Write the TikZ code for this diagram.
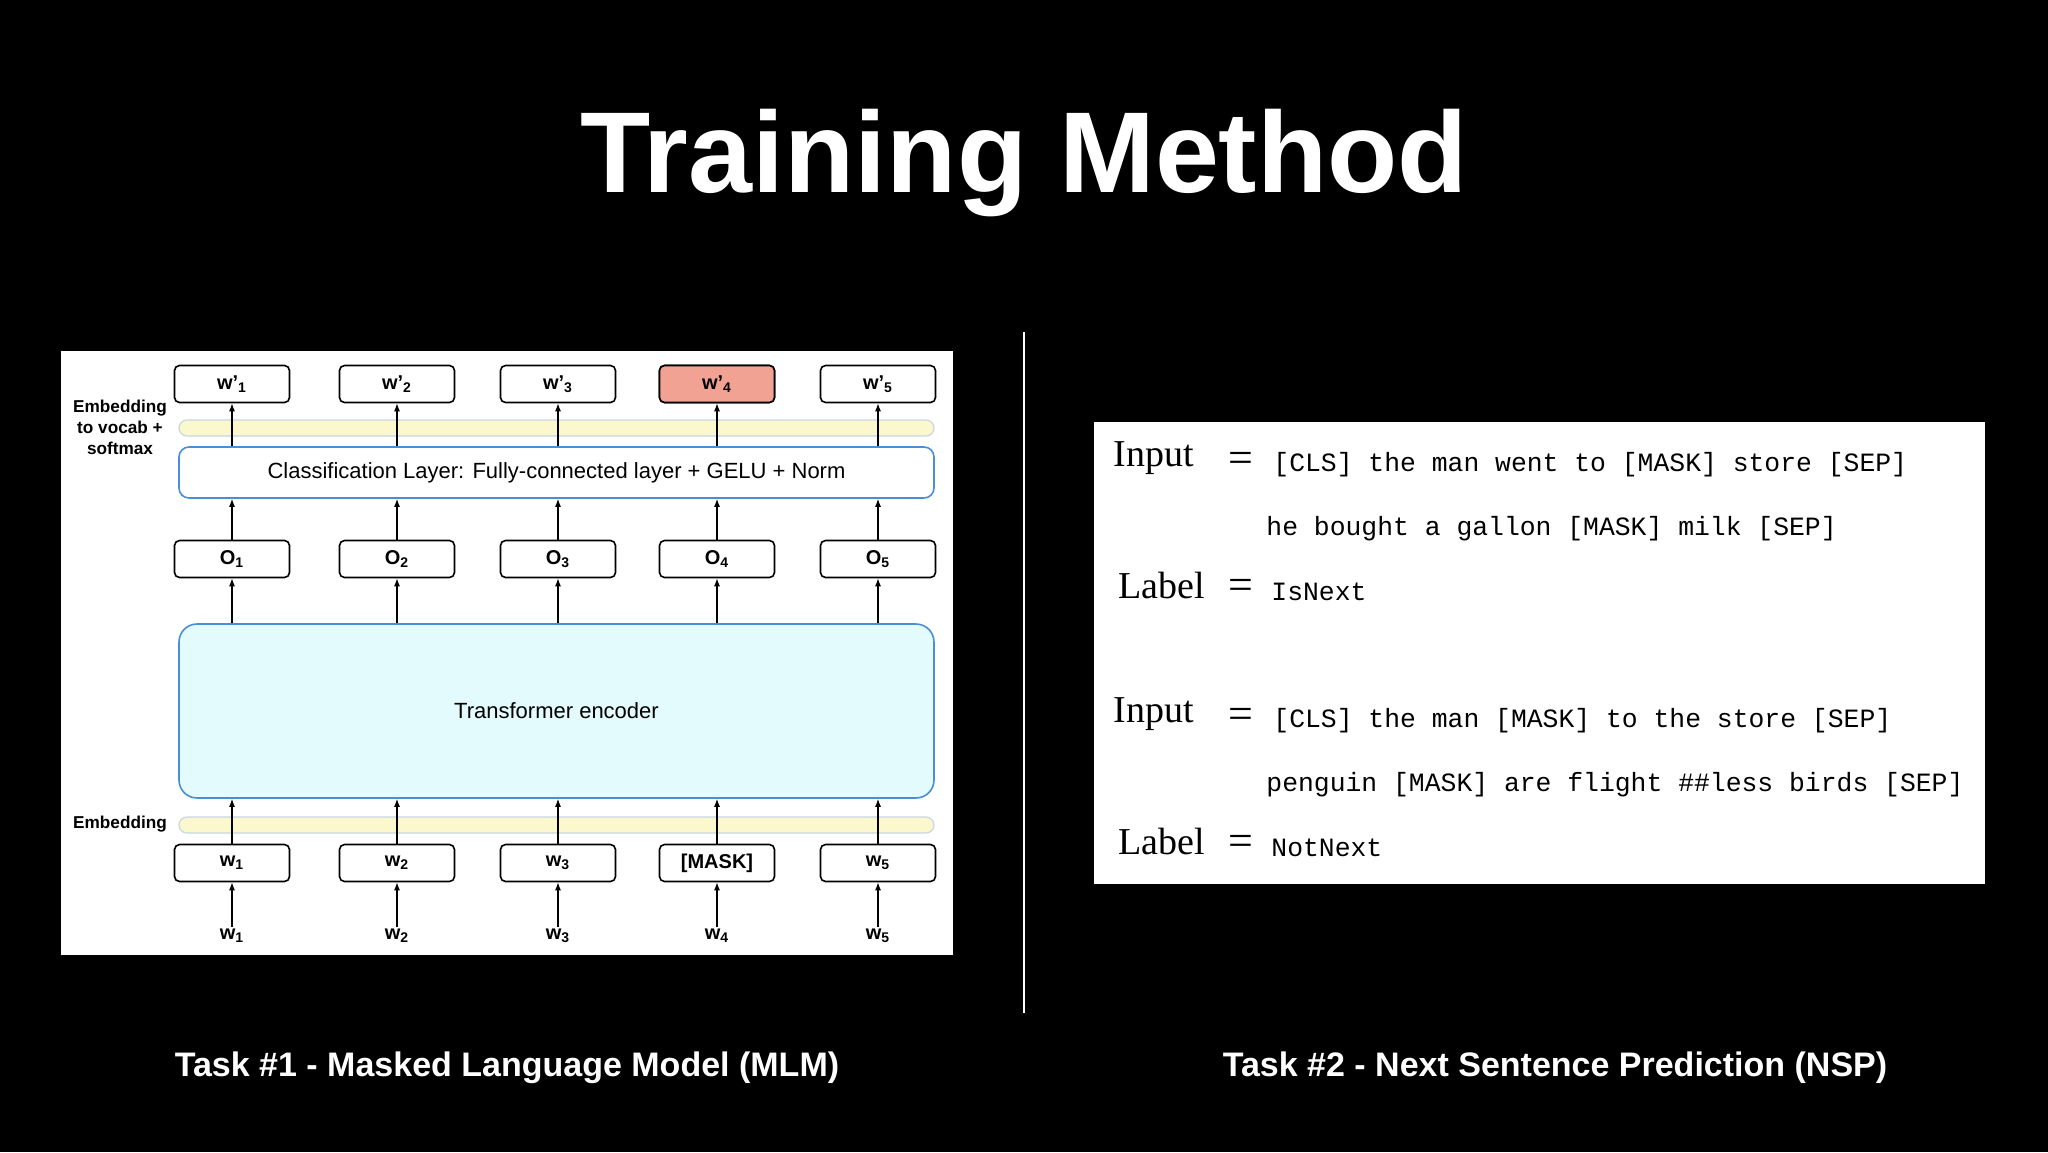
\documentclass[tikz,border=0pt]{standalone}
\usepackage{fontspec}
\setmainfont{Liberation Sans}
\newfontfamily\serifF{Liberation Serif}
\newfontfamily\monoF{Liberation Mono}
\usetikzlibrary{arrows.meta}
\definecolor{boxblue}{HTML}{4A8FD4}
\definecolor{encfill}{HTML}{E4FBFD}
\definecolor{barfill}{HTML}{FAF8CC}
\definecolor{barline}{HTML}{C9D6E3}
\definecolor{salmon}{HTML}{F2A292}
\tikzset{
  tok/.style={draw=black, line width=0.8pt, rounded corners=2.5pt, fill=white, minimum width=57.5pt, minimum height=18.5pt, inner sep=0pt, font=\fontsize{10}{11}\selectfont\bfseries},
  bar/.style={draw=barline, fill=barfill, line width=0.6pt, rounded corners=4pt},
  layer/.style={draw=boxblue, line width=0.8pt, rounded corners=5pt, fill=white},
  arr/.style={-{Latex[length=4pt,width=3pt]}, line width=0.6pt},
  side/.style={font=\fontsize{8.6}{10.5}\selectfont\bfseries, align=center, inner sep=0pt},
  inp/.style={font=\serifF\fontsize{19}{20}\selectfont, anchor=west, inner sep=0pt},
  mono/.style={font=\monoF\fontsize{13.2}{14}\selectfont, anchor=west, inner sep=0pt},
  eq/.style={font=\serifF\fontsize{22}{22}\selectfont, inner sep=0pt},
  captext/.style={font=\fontsize{17}{20}\selectfont\bfseries, text=white, inner sep=0pt}
}
\begin{document}
\begin{tikzpicture}[x=0.5pt,y=-0.5pt]
\fill[black] (0,0) rectangle (2048,1152);
\useasboundingbox (0,0) rectangle (2048,1152);
\node[text=white, font=\fontsize{57.5}{66}\selectfont\bfseries, inner sep=0pt] (title) at (1024,163) {Training Method};
% left panel
\fill[white] (61,351) rectangle (953,955);
\draw[bar] (179,420) rectangle (934,436);
\draw[bar] (179,817) rectangle (934,833);
\node[layer, minimum width=377.5pt, minimum height=25.5pt, font=\fontsize{11}{12}\selectfont] (cls) at (556.5,472.5) {Classification Layer: Fully-connected layer + GELU + Norm};
\node[layer, draw=boxblue, fill=encfill, rounded corners=9pt, minimum width=377.5pt, minimum height=87pt, font=\fontsize{11}{12}\selectfont] (enc) at (556.5,711) {Transformer encoder};
\node[side] (lab1) at (120,427) {Embedding\\to vocab +\\softmax};
\node[side] (lab2) at (120,824) {Embedding};
\foreach \i/\x/\lblA/\lblB in {1/232/w\textsubscript{1}/w\textsubscript{1},2/397/w\textsubscript{2}/w\textsubscript{2},3/558/w\textsubscript{3}/w\textsubscript{3},4/717/[MASK]/w\textsubscript{4},5/878/w\textsubscript{5}/w\textsubscript{5}}{
  \node[tok] (wp\i) at (\x,384) {w'\textsubscript{\i}};
  \node[tok] (o\i) at (\x,559) {O\textsubscript{\i}};
  \node[tok] (w\i) at (\x,863) {\lblA};
  \node[font=\fontsize{10}{11}\selectfont\bfseries, inner sep=1pt] (lw\i) at (\x,936) {\lblB};
  \draw[arr] (cls.north -| wp\i) -- (wp\i.south);
  \draw[arr] (o\i.north) -- (o\i |- cls.south);
  \draw[arr] (enc.north -| o\i) -- (o\i.south);
  \draw[arr] (w\i.north) -- (w\i |- enc.south);
  \draw[arr] (lw\i.north) -- (w\i.south);
}
\node[tok, fill=salmon] at (wp4) {w'\textsubscript{4}};
% divider
\coordinate (d1) at (1024,332);
\coordinate (d2) at (1024,1013);
\draw[white, line width=1.2pt] (d1) -- (d2);
% right panel
\fill[white] (1094,422) rectangle (1985,884);
\node[inp] (in1) at (1113,458) {Input};
\node[eq] (e1) at (1241,462) {=};
\node[mono] (m1) at (1273,465) {[CLS] the man went to [MASK] store [SEP]};
\node[mono] (m2) at (1266,529) {he bought a gallon [MASK] milk [SEP]};
\node[inp] (lb1) at (1118,585) {Label};
\node[eq] (e2) at (1241,589) {=};
\node[mono] (m3) at (1271,592) {IsNext};
\node[inp] (in2) at (1113,714) {Input};
\node[eq] (e3) at (1241,718) {=};
\node[mono] (m4) at (1273,721) {[CLS] the man [MASK] to the store [SEP]};
\node[mono] (m5) at (1266,785) {penguin [MASK] are flight \#\#less birds [SEP]};
\node[inp] (lb2) at (1118,841) {Label};
\node[eq] (e4) at (1241,845) {=};
\node[mono] (m6) at (1271,848) {NotNext};
% captions
\node[captext] (c1) at (507,1068) {Task \#1 - Masked Language Model (MLM)};
\node[captext] (c2) at (1555,1068) {Task \#2 - Next Sentence Prediction (NSP)};
\end{tikzpicture}
\end{document}
